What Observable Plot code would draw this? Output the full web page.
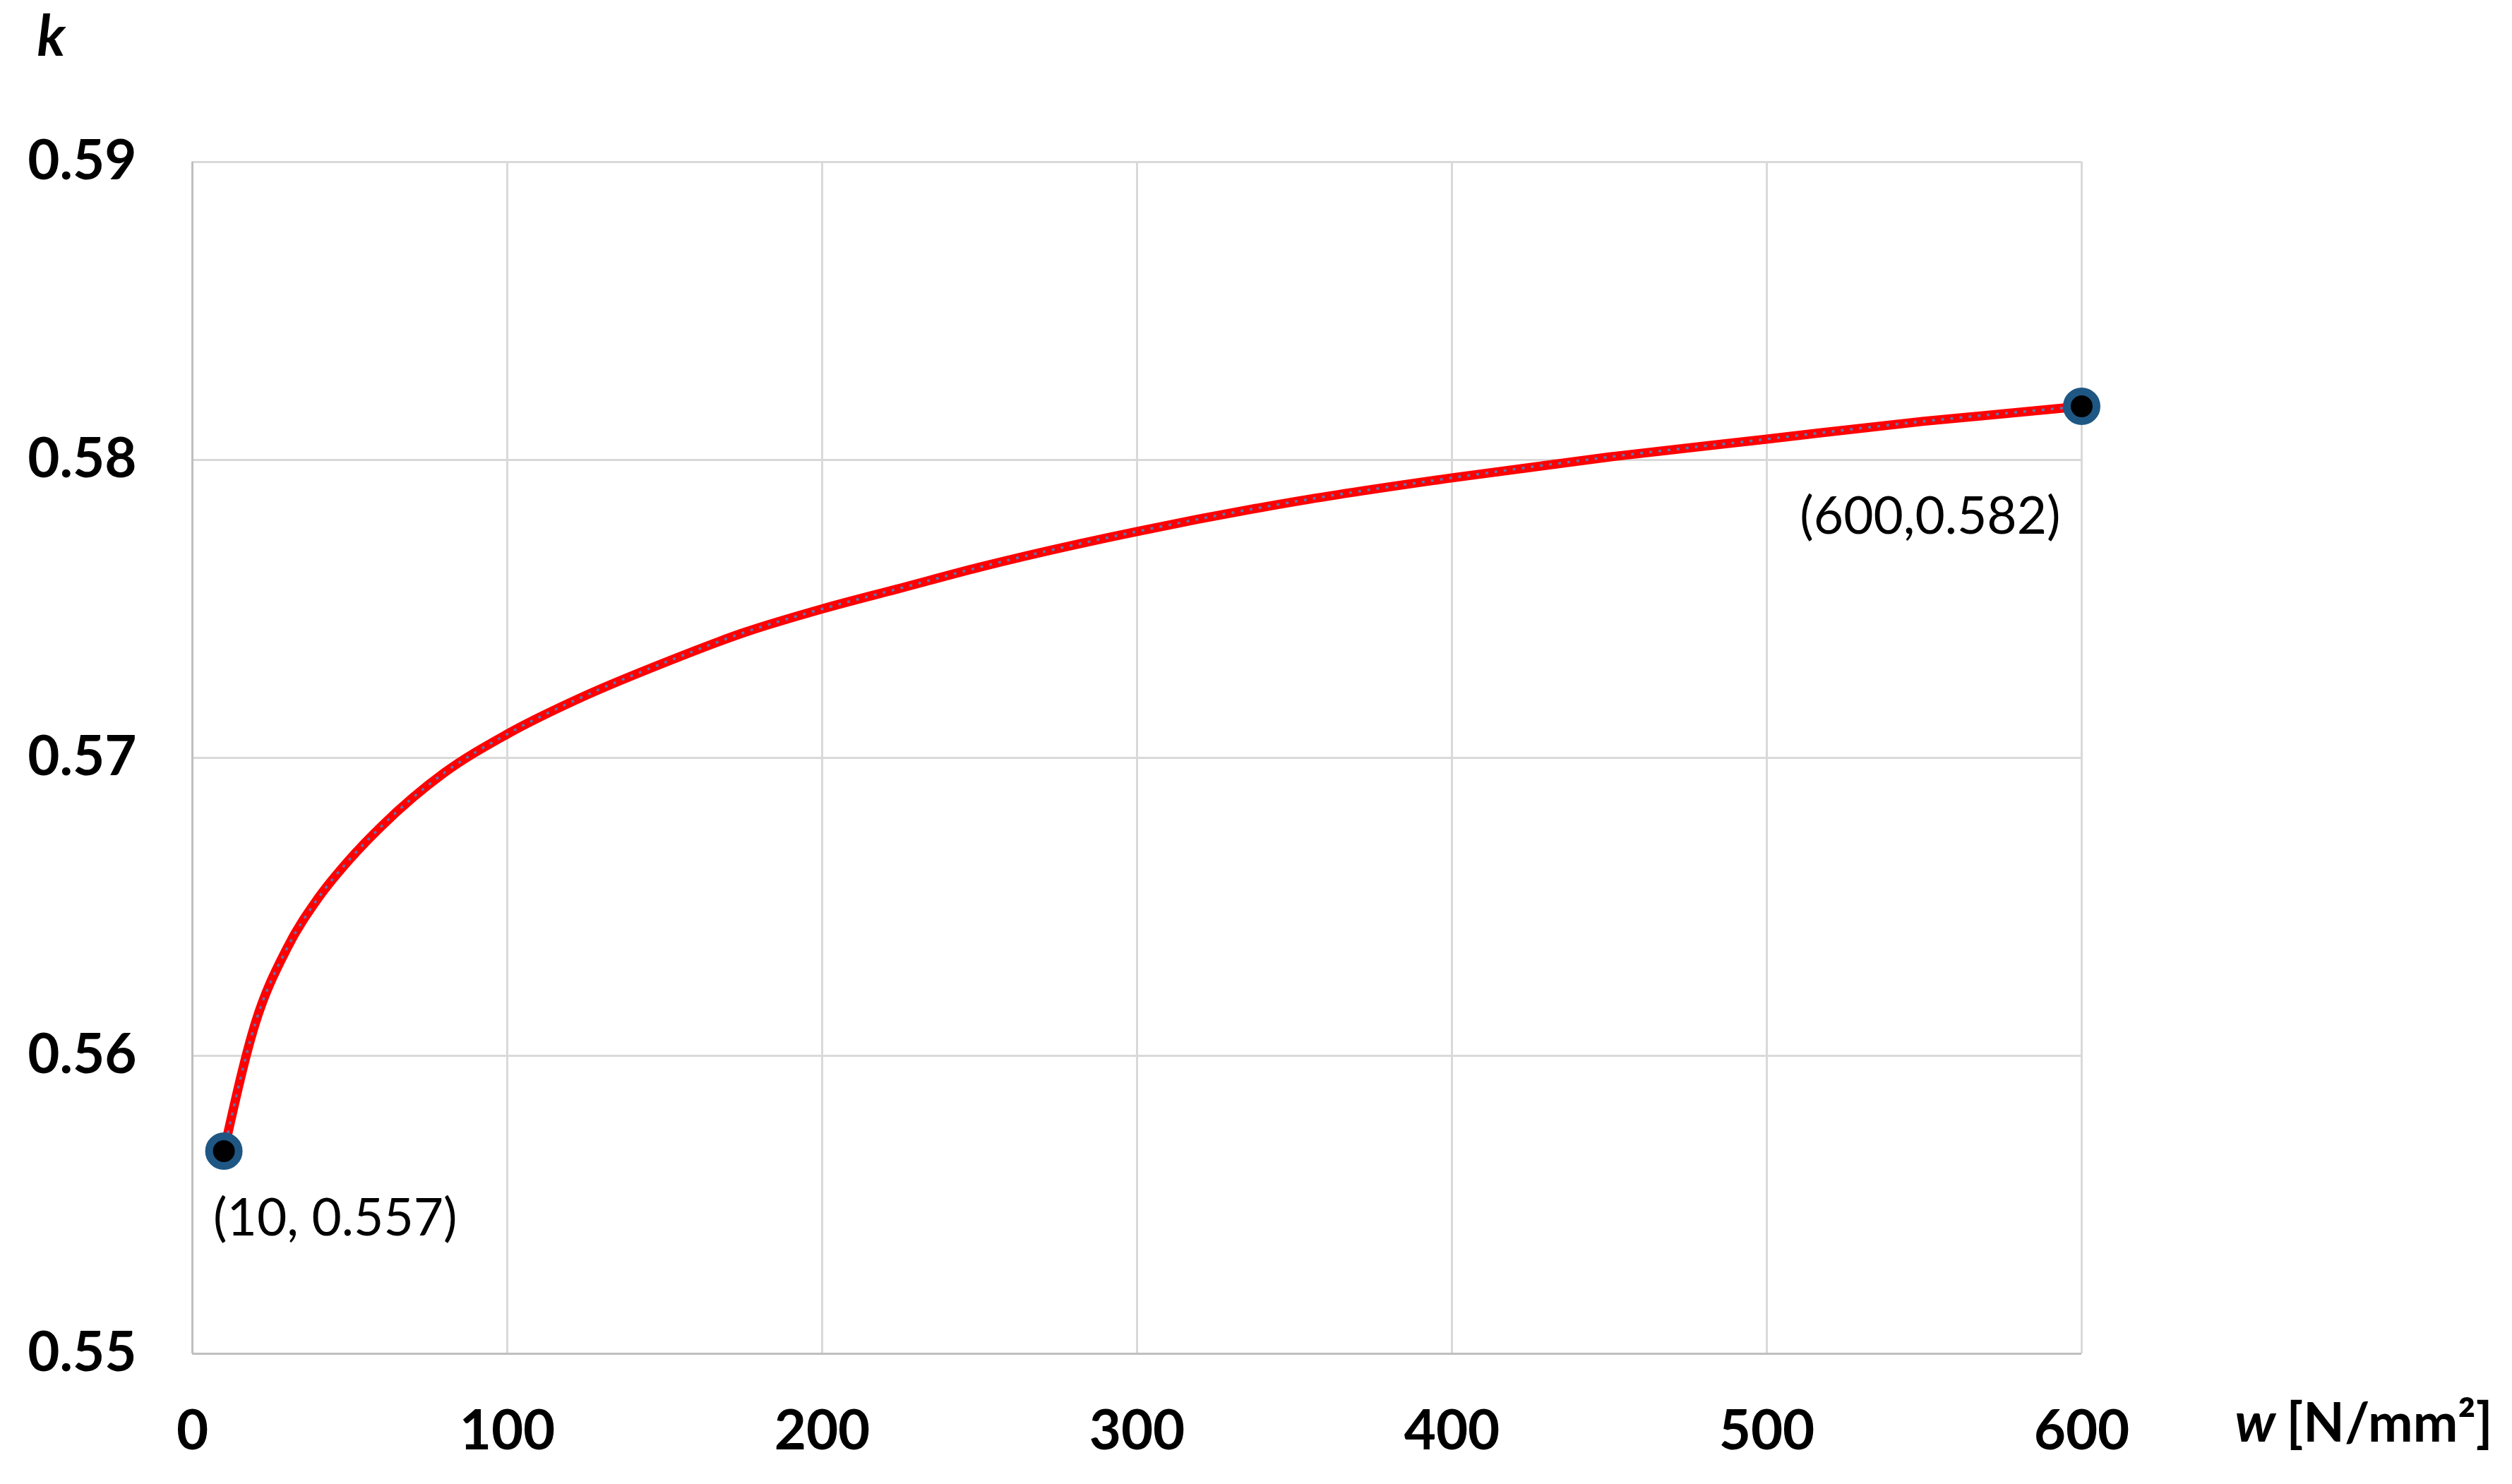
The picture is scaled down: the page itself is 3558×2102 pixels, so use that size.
<!DOCTYPE html>
<html><head><meta charset="utf-8">
<script src="https://cdn.jsdelivr.net/npm/d3@7"></script>
<script src="https://cdn.jsdelivr.net/npm/@observablehq/plot@0.6"></script>
<style>html,body{margin:0;padding:0;background:#fff;} svg{display:block}</style>
</head><body><div id="chart"></div>
<script>
// Series
const wValues = [10, 20, 30, 40, 50, 60, 80, 100, 125, 150, 175, 200, 225, 250, 300, 350, 400, 450, 500, 550, 600];
const kValues = [0.5568, 0.5611, 0.5636, 0.5653, 0.5666, 0.5677, 0.5695, 0.5708, 0.5721, 0.5732, 0.5742, 0.5750, 0.5757, 0.5764, 0.5776, 0.5786, 0.5794, 0.5801, 0.5807, 0.5813, 0.5818];
const xTicks = [0, 100, 200, 300, 400, 500, 600];
const yTicks = [0.55, 0.56, 0.57, 0.58, 0.59];
const pointLabels = ["(10, 0.557)", "(600,0.582)"];
const yLabel = "k";
const xLabel = "w";
const xUnit = "[N/mm²]";

const data = wValues.map((w, i) => ({w, k: kValues[i]}));
const first = [data[0]];
const last = [data[data.length - 1]];
const font = "Lato, 'Open Sans', sans-serif";

const chart = Plot.plot({
  width: 3558,
  height: 2102,
  marginLeft: 272,
  marginTop: 229,
  marginRight: 610,
  marginBottom: 185,
  style: {fontFamily: font, background: "#fff", color: "#000"},
  x: {domain: [0, 600]},
  y: {domain: [0.55, 0.59]},
  marks: [
    Plot.gridX(xTicks, {stroke: "#d9d9d9", strokeWidth: 3, strokeOpacity: 1}),
    Plot.gridY(yTicks, {stroke: "#d9d9d9", strokeWidth: 3, strokeOpacity: 1}),
    Plot.ruleX([0], {stroke: "#bfbfbf", strokeWidth: 3}),
    Plot.ruleY([0.55], {stroke: "#bfbfbf", strokeWidth: 3}),
    Plot.axisY(yTicks, {tickSize: 0, tickPadding: 79, tickFormat: d3.format(".2f"), fontSize: 78, fontWeight: "bold", fill: "#000", label: null, fontFamily: font}),
    Plot.axisX(xTicks, {tickSize: 0, tickPadding: 80, tickFormat: d3.format("d"), fontSize: 78, fontWeight: "bold", fill: "#000", label: null, fontFamily: font}),
    Plot.line(data, {x: "w", y: "k", stroke: "#ff0000", strokeWidth: 13, curve: "monotone-x"}),
    Plot.line(data, {x: "w", y: "k", stroke: "#4f7fc0", strokeWidth: 3.5, strokeDasharray: "4,9", strokeOpacity: 0.9, curve: "monotone-x", strokeLinecap: "butt"}),
    Plot.dot([...first, ...last], {x: "w", y: "k", r: 21, fill: "#000", stroke: "#1f5784", strokeWidth: 11}),
    Plot.text(first, {x: "w", y: "k", text: () => pointLabels[0], textAnchor: "start", lineAnchor: "middle", dx: -15, dy: 96, fontSize: 73, fill: "#000"}),
    Plot.text(last, {x: "w", y: "k", text: () => pointLabels[1], textAnchor: "end", lineAnchor: "middle", dx: -30, dy: 157, fontSize: 73, fill: "#000"}),
    Plot.text([yLabel], {frameAnchor: "top-left", text: d => d, dx: -200, dy: -176, textAnchor: "middle", lineAnchor: "middle", fontSize: 80, fontWeight: "bold", fontStyle: "italic", fill: "#000"}),
    Plot.text([xLabel], {frameAnchor: "bottom-right", text: d => d, dx: 217, dy: 100, textAnchor: "start", lineAnchor: "middle", fontSize: 78, fontWeight: "bold", fontStyle: "italic", fill: "#000"}),
    Plot.text([xUnit], {frameAnchor: "bottom-right", text: d => d, dx: 290, dy: 100, textAnchor: "start", lineAnchor: "middle", fontSize: 76, fontWeight: "bold", fill: "#000"})
  ]
});
document.getElementById("chart").appendChild(chart);
</script>
</body></html>
